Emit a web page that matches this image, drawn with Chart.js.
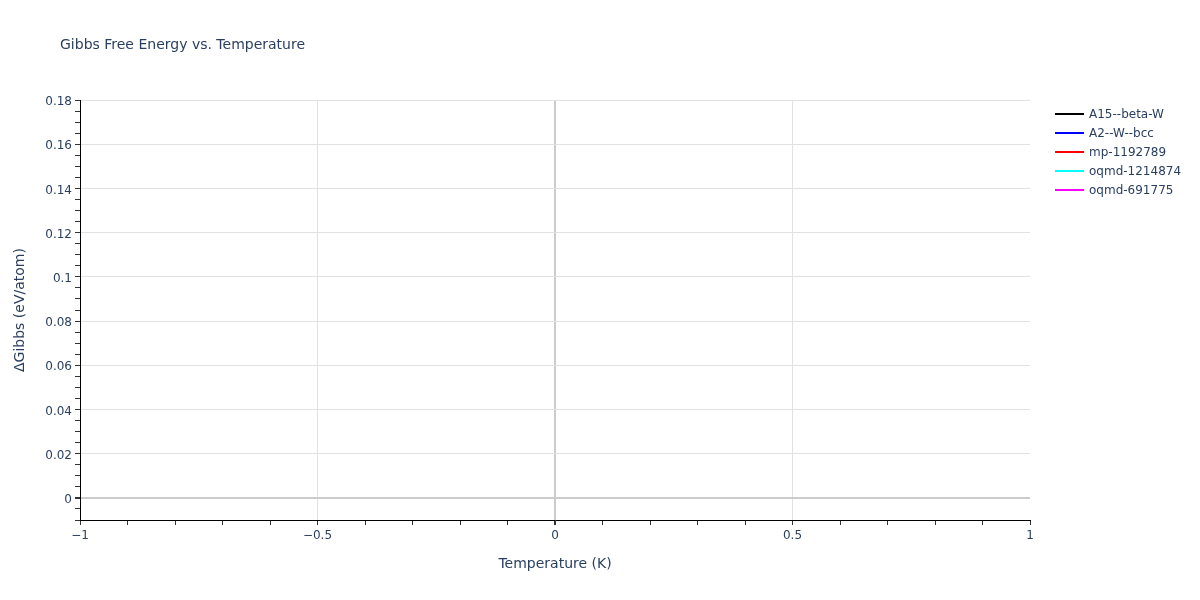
<!DOCTYPE html>
<html>
<head>
<meta charset="utf-8">
<script src="https://cdn.jsdelivr.net/npm/chart.js@4"></script>
<style>
  body { margin: 0; background: #fff; }
</style>
</head>
<body>
<canvas id="grafico" width="1200" height="600"></canvas>
<script>
// series shown in the legend (the reference plots no points for them)
const seriesNames = ['A15--beta-W', 'A2--W--bcc', 'mp-1192789', 'oqmd-1214874', 'oqmd-691775'];
const seriesColors = ['#000000', '#0000ff', '#ff0000', '#00ffff', '#ff00ff'];
const a15Values = [];
const a2Values = [];
const mp1192789Values = [];
const oqmd1214874Values = [];
const oqmd691775Values = [];
const seriesValues = [a15Values, a2Values, mp1192789Values, oqmd1214874Values, oqmd691775Values];

// axis ranges and tick steps
const xRange = [-1, 1];
const xMajor = 0.5;
const xMinor = 0.1;
const yRange = [-0.01, 0.18];
const yMajor = 0.02;
const yMinor = 0.005;

const textColor = '#2a3f5f';
const fontFamily = '"DejaVu Sans", Verdana, sans-serif';
Chart.defaults.font.family = fontFamily;
Chart.defaults.font.size = 12;
Chart.defaults.color = textColor;

function isMultiple(v, step) {
    const r = v / step;
    return Math.abs(r - Math.round(r)) < 1e-6;
}
function fmt(v) {
    const s = String(parseFloat(v.toFixed(4)));
    return s.replace('-', '\u2212');
}

function gridColor(step, lo, hi) {
    return (c) => {
        const v = c.tick ? c.tick.value : null;
        if (v === null || !isMultiple(v, step)) return 'rgba(0,0,0,0)';
        if (Math.abs(v - lo) < 1e-9 || Math.abs(v - hi) < 1e-9) return 'rgba(0,0,0,0)';
        if (Math.abs(v) < 1e-9) return '#cccccc';
        return '#e2e2e2';
    };
}
function gridWidth(c) {
    const v = c.tick ? c.tick.value : null;
    return v !== null && Math.abs(v) < 1e-9 ? 2 : 1;
}

const titleAndLegend = {
    id: 'titleAndLegend',
    afterDraw(chart) {
        const ctx = chart.ctx;
        ctx.save();
        ctx.fillStyle = textColor;
        ctx.textBaseline = 'middle';
        ctx.textAlign = 'left';
        ctx.font = '14px ' + fontFamily;
        ctx.fillText('Gibbs Free Energy vs. Temperature', 60, 45);

        ctx.font = '12px ' + fontFamily;
        chart.data.datasets.forEach((ds, i) => {
            const y = 114 + i * 19;
            ctx.strokeStyle = ds.borderColor;
            ctx.lineWidth = 2;
            ctx.beginPath();
            ctx.moveTo(1055, y);
            ctx.lineTo(1084, y);
            ctx.stroke();
            ctx.fillStyle = textColor;
            ctx.fillText(ds.label, 1089, y + 1);
        });
        ctx.restore();
    }
};

const ctx = document.getElementById('grafico').getContext('2d');
new Chart(ctx, {
    type: 'line',
    data: {
        datasets: seriesNames.map((name, i) => ({
            label: name,
            data: seriesValues[i],
            borderColor: seriesColors[i],
            backgroundColor: seriesColors[i],
            borderWidth: 2,
            pointRadius: 0
        }))
    },
    options: {
        responsive: false,
        animation: false,
        layout: { padding: { left: 0, right: 170, top: 100, bottom: 0 } },
        plugins: {
            legend: { display: false },
            title: { display: false },
            tooltip: { enabled: false }
        },
        scales: {
            x: {
                type: 'linear',
                min: xRange[0],
                max: xRange[1],
                afterFit: (s) => { s.height = 80; },
                border: { color: '#000', width: 1 },
                grid: {
                    color: gridColor(xMajor, xRange[0], xRange[1]),
                    lineWidth: gridWidth,
                    tickColor: '#333',
                    tickLength: 5
                },
                ticks: {
                    stepSize: xMinor,
                    autoSkip: false,
                    maxRotation: 0,
                    padding: 4,
                    color: textColor,
                    callback: (v) => isMultiple(v, xMajor) ? fmt(v) : ''
                },
                title: {
                    display: true,
                    text: 'Temperature (K)',
                    color: textColor,
                    font: { size: 14 },
                    padding: { top: 0, bottom: 27 }
                }
            },
            y: {
                type: 'linear',
                min: yRange[0],
                max: yRange[1],
                afterFit: (s) => { s.width = 80; },
                border: { color: '#000', width: 1 },
                grid: {
                    color: gridColor(yMajor, yRange[0], 1e9),
                    lineWidth: gridWidth,
                    tickColor: '#333',
                    tickLength: 5
                },
                ticks: {
                    stepSize: yMinor,
                    autoSkip: false,
                    padding: 3,
                    labelOffset: 2,
                    color: textColor,
                    callback: (v) => isMultiple(v, yMajor) ? fmt(v) : ''
                },
                title: {
                    display: true,
                    text: '\u0394Gibbs (eV/atom)',
                    color: textColor,
                    font: { size: 14 },
                    padding: { top: 12, bottom: 0 }
                }
            }
        }
    },
    plugins: [titleAndLegend]
});
</script>
</body>
</html>
